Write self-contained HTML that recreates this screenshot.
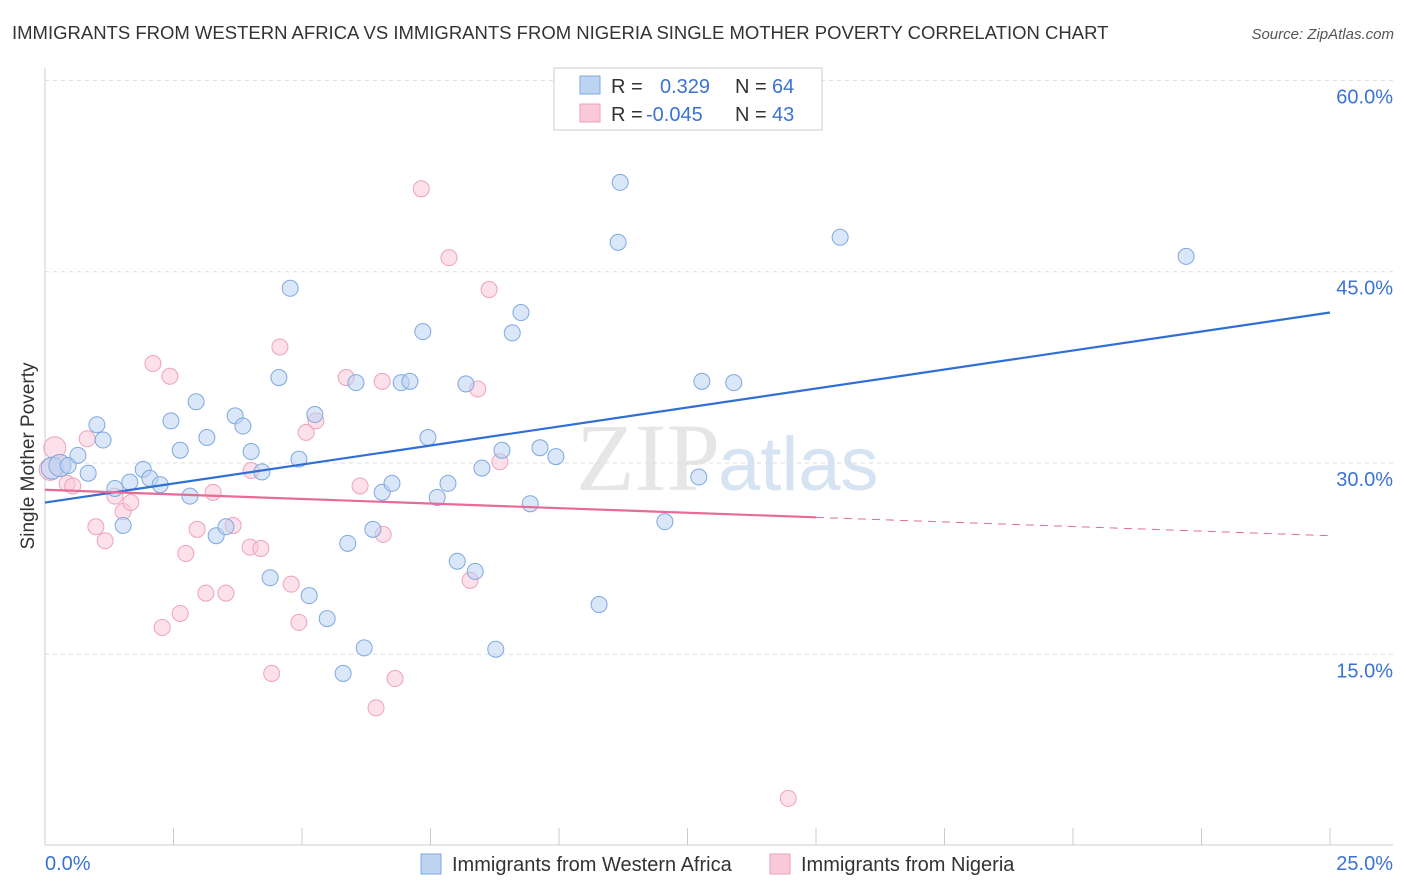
<!DOCTYPE html>
<html><head><meta charset="utf-8">
<style>
body{margin:0;background:#fff;font-family:"Liberation Sans",sans-serif;}
#wrap{position:relative;width:1406px;height:892px;overflow:hidden;}
</style></head><body>
<div id="wrap">
<svg id="chart" width="1406" height="892">
<text x="12" y="39" font-size="18.5" fill="#333">IMMIGRANTS FROM WESTERN AFRICA VS IMMIGRANTS FROM NIGERIA SINGLE MOTHER POVERTY CORRELATION CHART</text>
<text x="1394" y="39" font-size="15" fill="#555" font-style="italic" text-anchor="end">Source: ZipAtlas.com</text>
<text x="720" y="490" font-size="96" fill="#e6e6e6" text-anchor="end" font-family="Liberation Serif,serif">ZIP</text>
<text x="718" y="490" font-size="76" fill="#d6e3f3">atlas</text>
<g id="grid"></g>
<g id="axes"></g>
<g id="marks"></g>
<text x="34" y="456" font-size="19" fill="#333" text-anchor="middle" transform="rotate(-90 34 456)">Single Mother Poverty</text>
<g>
<rect x="554" y="68" width="268" height="62" fill="#fff" stroke="#ccc"/>
<rect x="580" y="76" width="20" height="18" fill="#bcd4f2" stroke="#7ea8e0"/>
<text x="611" y="93" font-size="20" fill="#333">R =</text>
<text x="660" y="93" font-size="20" fill="#3a73d4">0.329</text>
<text x="735" y="93" font-size="20" fill="#333">N =</text>
<text x="772" y="93" font-size="20" fill="#3a73d4">64</text>
<rect x="580" y="104" width="20" height="18" fill="#f9c9d9" stroke="#eea1bc"/>
<text x="611" y="121" font-size="20" fill="#333">R =</text>
<text x="646" y="121" font-size="20" fill="#3a73d4">-0.045</text>
<text x="735" y="121" font-size="20" fill="#333">N =</text>
<text x="772" y="121" font-size="20" fill="#3a73d4">43</text>
</g>
<g>
<rect x="421" y="854" width="20" height="20" fill="#bcd4f2" stroke="#7ea8e0"/>
<text x="452" y="871" font-size="20" fill="#333">Immigrants from Western Africa</text>
<rect x="770" y="854" width="20" height="20" fill="#f9c9d9" stroke="#eea1bc"/>
<text x="801" y="871" font-size="20" fill="#333">Immigrants from Nigeria</text>
</g>
</svg>
</div>
<script>
const yTicks=[15,30,45,60];
const xTickLabels=["0.0%","25.0%"];
const blueX=[0.14,0.29,0.45,0.64,0.84,1.01,1.13,1.36,1.52,1.65,1.91,2.04,2.24,2.45,2.63,2.82,2.94,3.15,3.33,3.52,3.70,3.85,4.01,4.22,4.38,4.55,4.77,4.94,5.14,5.25,5.49,5.80,5.89,6.05,6.21,6.38,6.56,6.75,6.93,7.10,7.35,7.45,7.63,7.84,8.02,8.19,8.37,8.50,8.77,8.89,9.09,9.26,9.44,9.63,9.94,10.78,11.15,11.19,12.06,12.72,12.78,13.40,15.47,22.20];
const blueY=[29.6,29.8,29.8,30.6,29.2,33.0,31.8,28.0,25.1,28.5,29.5,28.8,28.3,33.3,31.0,27.4,34.8,32.0,24.3,25.0,33.7,32.9,30.9,29.3,21.0,36.7,43.7,30.3,19.6,33.8,17.8,13.5,23.7,36.3,15.5,24.8,27.7,28.4,36.3,36.4,40.3,32.0,27.3,28.4,22.3,36.2,21.5,29.6,15.4,31.0,40.2,41.8,26.8,31.2,30.5,18.9,47.3,52.0,25.4,28.9,36.4,36.3,47.7,46.2];
const pinkX=[0.19,0.29,0.43,0.54,0.82,0.99,1.17,1.36,1.52,1.67,2.10,2.43,2.28,2.63,2.74,2.96,3.13,3.27,3.52,3.66,3.99,4.01,4.20,4.41,4.57,4.79,4.94,5.08,5.27,5.86,6.13,6.44,6.58,6.56,6.81,7.32,7.86,8.27,8.42,8.64,8.85,14.46,0.10];
const pinkY=[31.2,29.8,28.4,28.2,31.9,25.0,23.9,27.4,26.2,26.9,37.8,36.8,17.1,18.2,22.9,24.8,19.8,27.7,19.8,25.1,23.4,29.4,23.3,13.5,39.1,20.5,17.5,32.4,33.3,36.7,28.2,10.8,24.4,36.4,13.1,51.5,46.1,20.8,35.8,43.6,30.1,3.7,29.5];
const blueTrend=[26.9,41.8];
const pinkTrend=[27.9,24.3];
const NS="http://www.w3.org/2000/svg";
const X0=45,X1=1330,Y0=845.6,PXPER=191.3/15;
function xs(v){return X0+(X1-X0)*v/25;}
function ys(v){return Y0-v*PXPER;}
function mk(tag,attrs,parent){const e=document.createElementNS(NS,tag);for(const k in attrs)e.setAttribute(k,attrs[k]);parent.appendChild(e);return e;}
const grid=document.getElementById('grid'),axes=document.getElementById('axes'),marks=document.getElementById('marks');
yTicks.forEach(t=>{
 const l=mk('line',{x1:45,x2:1393,y1:ys(t),y2:ys(t),stroke:'#ddd','stroke-dasharray':'4,4'},grid);
 
 
 const tx=mk('text',{x:1393,y:ys(t)+23,'font-size':20,fill:'#3a73d4','text-anchor':'end'},axes);
 tx.textContent=t.toFixed(1)+'%';
 
 
});
const ya=mk('line',{x1:45,x2:45,y1:68,y2:845,stroke:'#ccc'},axes);


const xa=mk('line',{x1:45,x2:1393,y1:845,y2:845,stroke:'#ccc'},axes);


for(let i=0;i<=10;i++){
 const t=mk('line',{x1:xs(i*2.5),x2:xs(i*2.5),y1:828,y2:845,stroke:'#ccc'},axes);
 
 
}
[[0,45,'start'],[1,1393,'end']].forEach(([i,x,a])=>{
 const t=mk('text',{x:x,y:870,'font-size':20,fill:'#3a73d4','text-anchor':a},axes);
 t.textContent=xTickLabels[i];
 
 
});
function dots(xa,ya,fill,stroke,name){
 xa.forEach((x,i)=>{
  const big=(x<0.3);
  const c=mk('circle',{cx:xs(x),cy:ys(ya[i]),r:big?11:8,fill:fill,'fill-opacity':0.55,stroke:stroke,'stroke-width':1},marks);
  
  
 });
}
dots(pinkX,pinkY,'#f9c9d9','#eea1bc','point-nigeria');
dots(blueX,blueY,'#bcd4f2','#7ea8e0','point-western-africa');
const bl=mk('line',{x1:xs(0),y1:ys(blueTrend[0]),x2:xs(25),y2:ys(blueTrend[1]),stroke:'#2f6fd6','stroke-width':2.2},marks);


const pm=pinkTrend[0]+(pinkTrend[1]-pinkTrend[0])*15/25;
const pl=mk('line',{x1:xs(0),y1:ys(pinkTrend[0]),x2:xs(15),y2:ys(pm),stroke:'#e86b97','stroke-width':2.2},marks);


const pd=mk('line',{x1:xs(15),y1:ys(pm),x2:xs(25),y2:ys(pinkTrend[1]),stroke:'#e86b97','stroke-width':1,'stroke-dasharray':'8,6'},marks);


</script>
</body></html>
